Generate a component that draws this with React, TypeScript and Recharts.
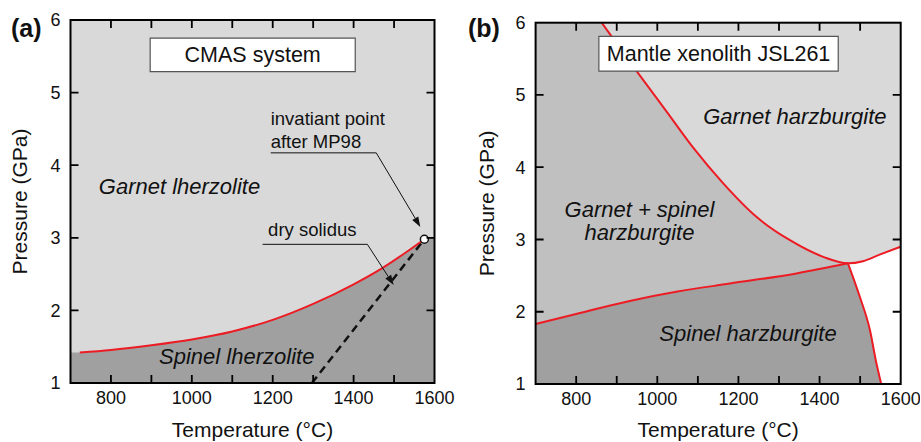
import React from "react";
import {
  ComposedChart,
  Area,
  Line,
  XAxis,
  YAxis,
  CartesianGrid,
  ReferenceArea,
  ReferenceDot,
  ReferenceLine,
} from "recharts";

const FONT = "'Liberation Sans', Arial, Helvetica, sans-serif";
const LIGHT = "#d9d9d9";
const MID = "#c0c0c0";
const DARK = "#a0a0a0";
const RED = "#ec1c24";
const INK = "#111";

const tempDomain = [700, 1600];
const pressureDomain = [1, 6];
const tempTicks = [700, 800, 900, 1000, 1100, 1200, 1300, 1400, 1500, 1600];
const pressureTicks = [1, 2, 3, 4, 5, 6];

// (a) CMAS system
const spinelOutT = [723, 800, 900, 1000, 1100, 1200, 1300, 1400, 1470, 1527, 1575];
const spinelOutP = [1.42, 1.455, 1.52, 1.6, 1.71, 1.87, 2.09, 2.36, 2.58, 2.79, 2.98];
const lherzFieldT = [700, 723, 800, 900, 1000, 1100, 1200, 1300, 1400, 1470, 1527, 1575, 1582, 1600];
const lherzFieldP = [1.42, 1.42, 1.455, 1.52, 1.6, 1.71, 1.87, 2.09, 2.36, 2.58, 2.79, 2.98, 3.0, 3.0];
const solidusT = [1297, 1575];
const solidusP = [1.0, 2.98];
const invariantT = 1575;
const invariantP = 2.98;
const invNoteT = [1195, 1456, 1565];
const invNoteP = [4.17, 4.17, 3.15];
const solNoteT = [1175, 1434, 1499];
const solNoteP = [2.91, 2.91, 2.35];

// (b) mantle xenolith JSL261
const garnetOutT = [863, 949, 1023, 1090, 1162, 1245, 1327, 1409, 1470, 1507, 1548, 1600];
const garnetOutP = [6.0, 5.33, 4.77, 4.26, 3.78, 3.31, 2.99, 2.76, 2.67, 2.7, 2.79, 2.9];
const topStripT = [700, 867];
const topStripP = [6.0, 6.0];
const rightFieldT = [1470, 1507, 1548, 1600];
const rightFieldP = [2.67, 2.7, 2.79, 2.9];
const spinelInT = [700, 800, 932, 1050, 1179, 1343, 1470];
const spinelInP = [1.83, 1.97, 2.15, 2.28, 2.39, 2.53, 2.67];
const spinelEdgeT = [1470, 1499, 1524, 1540, 1552];
const spinelEdgeP = [2.67, 2.21, 1.75, 1.29, 1.0];
const spinelFieldT = [700, 800, 932, 1050, 1179, 1343, 1470, 1499, 1524, 1540, 1552];
const spinelFieldP = [1.83, 1.97, 2.15, 2.28, 2.39, 2.53, 2.67, 2.21, 1.75, 1.29, 1.0];

const pts = (t: number[], p: number[]) => t.map((x, i) => ({ t: x, p: p[i] }));

const TICK_LEN = 8;

// box around the whole plot, with inward ticks on all four sides
const frameShape = (r: any) => {
  const x = Number(r.x);
  const y = Number(r.y);
  const w = Number(r.width);
  const h = Number(r.height);
  const tx = (t: number) => x + ((t - tempDomain[0]) / (tempDomain[1] - tempDomain[0])) * w;
  const py = (p: number) => y + h - ((p - pressureDomain[0]) / (pressureDomain[1] - pressureDomain[0])) * h;
  let d = "";
  tempTicks.slice(1, -1).forEach((t) => {
    const cx = tx(t).toFixed(2);
    d += `M${cx},${(y + h).toFixed(2)}V${(y + h - TICK_LEN).toFixed(2)}`;
    d += `M${cx},${y.toFixed(2)}V${(y + TICK_LEN).toFixed(2)}`;
  });
  pressureTicks.slice(1, -1).forEach((p) => {
    const cy = py(p).toFixed(2);
    d += `M${x.toFixed(2)},${cy}H${(x + TICK_LEN).toFixed(2)}`;
    d += `M${(x + w).toFixed(2)},${cy}H${(x + w - TICK_LEN).toFixed(2)}`;
  });
  return (
    <g>
      <path d={d} stroke="#000" strokeWidth={1.8} fill="none" />
      <rect x={x} y={y} width={w} height={h} stroke="#000" strokeWidth={2} fill="none" />
    </g>
  );
};

const textShape =
  (lines: string[], size: number, anchor = "start", italic = false, lh = 22) =>
  (p: any) => (
    <text
      x={p.cx}
      y={p.cy}
      fontSize={size}
      fontStyle={italic ? "italic" : "normal"}
      textAnchor={anchor}
      fill={INK}
    >
      {lines.map((l, i) => (
        <tspan key={i} x={p.cx} dy={i ? lh : 0}>
          {l}
        </tspan>
      ))}
    </text>
  );

const leaderShape = (lines: string[], dx: number, lift: number) => (p: any) => (
  <g>
    <line x1={p.x1} y1={p.y1} x2={p.x2} y2={p.y2} stroke={INK} strokeWidth={1} />
    <text x={p.x1 + dx} y={p.y1 - lift - (lines.length - 1) * 23} fontSize={18.5} fill={INK}>
      {lines.map((l, i) => (
        <tspan key={i} x={p.x1 + dx} dy={i ? 23 : 0}>
          {l}
        </tspan>
      ))}
    </text>
  </g>
);

const arrowShape = (p: any) => {
  const a = Math.atan2(p.y2 - p.y1, p.x2 - p.x1);
  const bx = p.x2 - 10 * Math.cos(a);
  const by = p.y2 - 10 * Math.sin(a);
  const nx = -Math.sin(a) * 3.5;
  const ny = Math.cos(a) * 3.5;
  return (
    <g>
      <line x1={p.x1} y1={p.y1} x2={bx} y2={by} stroke={INK} strokeWidth={1} />
      <path d={`M${p.x2},${p.y2}L${bx + nx},${by + ny}L${bx - nx},${by - ny}Z`} fill={INK} />
    </g>
  );
};

function frame() {
  return (
    <ReferenceArea
      key="frame"
      x1={tempDomain[0]}
      x2={tempDomain[1]}
      y1={pressureDomain[0]}
      y2={pressureDomain[1]}
      zIndex={800}
      shape={frameShape}
    />
  );
}

function axes(yWidth: number, xHeight: number, titleOffset: number) {
  return [
    <XAxis
      key="xb"
      dataKey="t"
      type="number"
      domain={tempDomain}
      ticks={tempTicks}
      interval={0}
      allowDataOverflow
      tickFormatter={(v) => (v % 200 === 0 ? String(v) : "")}
      tickSize={-5}
      tickMargin={13}
      height={xHeight}
      axisLine={false}
      tickLine={false}
      tick={{ fontSize: 18, fill: INK }}
      label={{ value: "Temperature (°C)", position: "insideBottom", offset: 5, fontSize: 21, fill: INK }}
    />,
    <YAxis
      key="yl"
      type="number"
      domain={pressureDomain}
      ticks={pressureTicks}
      interval={0}
      allowDataOverflow
      tickSize={-5}
      tickMargin={15}
      width={yWidth}
      axisLine={false}
      tickLine={false}
      tick={{ fontSize: 18, fill: INK }}
      label={{
        value: "Pressure (GPa)",
        angle: -90,
        position: "insideLeft",
        offset: titleOffset,
        fontSize: 21,
        fill: INK,
        style: { textAnchor: "middle" },
      }}
    />,
  ];
}

function PanelA() {
  return (
    <ComposedChart width={460} height={442} margin={{ top: 20, right: 25.5, bottom: 0, left: 0 }}>
      <CartesianGrid horizontal={false} vertical={false} fill={LIGHT} fillOpacity={1} />
      <Area
        data={pts(lherzFieldT, lherzFieldP)}
        dataKey="p"
        type="monotone"
        baseValue={1}
        fill={DARK}
        fillOpacity={1}
        stroke="none"
        isAnimationActive={false}
      />
      <Line
        data={pts(solidusT, solidusP)}
        dataKey="p"
        type="linear"
        stroke={INK}
        strokeWidth={2.5}
        strokeDasharray="8 5"
        dot={false}
        isAnimationActive={false}
      />
      <Line
        data={pts(spinelOutT, spinelOutP)}
        dataKey="p"
        type="monotone"
        stroke={RED}
        strokeWidth={2}
        dot={false}
        isAnimationActive={false}
      />
      <ReferenceArea
        x1={897}
        x2={1404}
        y1={5.29}
        y2={5.75}
        fill="#fff"
        fillOpacity={1}
        stroke="#555"
        strokeWidth={1.2}
        zIndex={650}
        label={{ value: "CMAS system", position: "center", fontSize: 21.5, fill: INK }}
      />
      <ReferenceDot x={770} y={3.61} r={0} zIndex={650} shape={textShape(["Garnet lherzolite"], 22, "start", true)} />
      <ReferenceDot x={919} y={1.26} r={0} zIndex={650} shape={textShape(["Spinel lherzolite"], 22, "start", true)} />
      <ReferenceLine
        segment={[{ x: invNoteT[0], y: invNoteP[0] }, { x: invNoteT[1], y: invNoteP[1] }]}
        zIndex={650}
        shape={leaderShape(["invatiant point", "after MP98"], 0, 4.5)}
      />
      <ReferenceLine
        segment={[{ x: invNoteT[1], y: invNoteP[1] }, { x: invNoteT[2], y: invNoteP[2] }]}
        zIndex={650}
        shape={arrowShape}
      />
      <ReferenceLine
        segment={[{ x: solNoteT[0], y: solNoteP[0] }, { x: solNoteT[1], y: solNoteP[1] }]}
        zIndex={650}
        shape={leaderShape(["dry solidus"], 5.5, 8)}
      />
      <ReferenceLine
        segment={[{ x: solNoteT[1], y: solNoteP[1] }, { x: solNoteT[2], y: solNoteP[2] }]}
        zIndex={650}
        shape={arrowShape}
      />
      <ReferenceDot
        x={invariantT}
        y={invariantP}
        r={4}
        fill="#fff"
        stroke={INK}
        strokeWidth={1.5}
        zIndex={700}
      />
      {frame()}
      {axes(70.5, 59, 20)}
    </ComposedChart>
  );
}

function PanelB() {
  return (
    <ComposedChart width={460} height={442} margin={{ top: 22.7, right: 19.3, bottom: 0, left: 0 }}>
      <CartesianGrid horizontal={false} vertical={false} fill={LIGHT} fillOpacity={1} />
      <Area
        data={pts(topStripT, topStripP)}
        dataKey="p"
        type="linear"
        baseValue={1}
        fill={MID}
        fillOpacity={1}
        stroke="none"
        isAnimationActive={false}
      />
      <Area
        data={pts(garnetOutT, garnetOutP)}
        dataKey="p"
        type="monotone"
        baseValue={1}
        fill={MID}
        fillOpacity={1}
        stroke="none"
        isAnimationActive={false}
      />
      <Area
        data={pts(rightFieldT, rightFieldP)}
        dataKey="p"
        type="monotone"
        baseValue={1}
        fill="#fff"
        fillOpacity={1}
        stroke="none"
        isAnimationActive={false}
      />
      <Area
        data={pts(spinelFieldT, spinelFieldP)}
        dataKey="p"
        type="linear"
        baseValue={1}
        fill={DARK}
        fillOpacity={1}
        stroke="none"
        isAnimationActive={false}
      />
      <Line
        data={pts(garnetOutT, garnetOutP)}
        dataKey="p"
        type="monotone"
        stroke={RED}
        strokeWidth={2}
        dot={false}
        isAnimationActive={false}
      />
      <Line
        data={pts(spinelInT, spinelInP)}
        dataKey="p"
        type="monotone"
        stroke={RED}
        strokeWidth={2}
        dot={false}
        isAnimationActive={false}
      />
      <Line
        data={pts(spinelEdgeT, spinelEdgeP)}
        dataKey="p"
        type="monotone"
        stroke={RED}
        strokeWidth={2}
        dot={false}
        isAnimationActive={false}
      />
      <ReferenceArea
        x1={856}
        x2={1446}
        y1={5.33}
        y2={5.81}
        fill="#fff"
        fillOpacity={1}
        stroke="#555"
        strokeWidth={1.2}
        zIndex={650}
        label={{ value: "Mantle xenolith JSL261", position: "center", fontSize: 21.5, fill: INK }}
      />
      <ReferenceDot x={1113} y={4.6} r={0} zIndex={650} shape={textShape(["Garnet harzburgite"], 22, "start", true)} />
      <ReferenceDot
        x={956}
        y={3.31}
        r={0}
        zIndex={650}
        shape={textShape(["Garnet + spinel", "harzburgite"], 22, "middle", true, 23)}
      />
      <ReferenceDot x={1005} y={1.6} r={0} zIndex={650} shape={textShape(["Spinel harzburgite"], 22, "start", true)} />
      {frame()}
      {axes(75.6, 58, 27)}
    </ComposedChart>
  );
}

export default function App() {
  return (
    <div
      style={{
        position: "absolute",
        left: 0,
        top: 0,
        width: 921,
        height: 442,
        background: "#fff",
        fontFamily: FONT,
      }}
    >
      <div style={{ position: "absolute", left: 0, top: 0 }}>
        <PanelA />
      </div>
      <div style={{ position: "absolute", left: 460, top: 0 }}>
        <PanelB />
      </div>
      <svg width={921} height={442} style={{ position: "absolute", left: 0, top: 0, pointerEvents: "none" }}>
        <text x={11} y={37} fontSize={25} fontWeight="bold" fill={INK}>
          (a)
        </text>
        <text x={468} y={37} fontSize={25} fontWeight="bold" fill={INK}>
          (b)
        </text>
      </svg>
    </div>
  );
}
